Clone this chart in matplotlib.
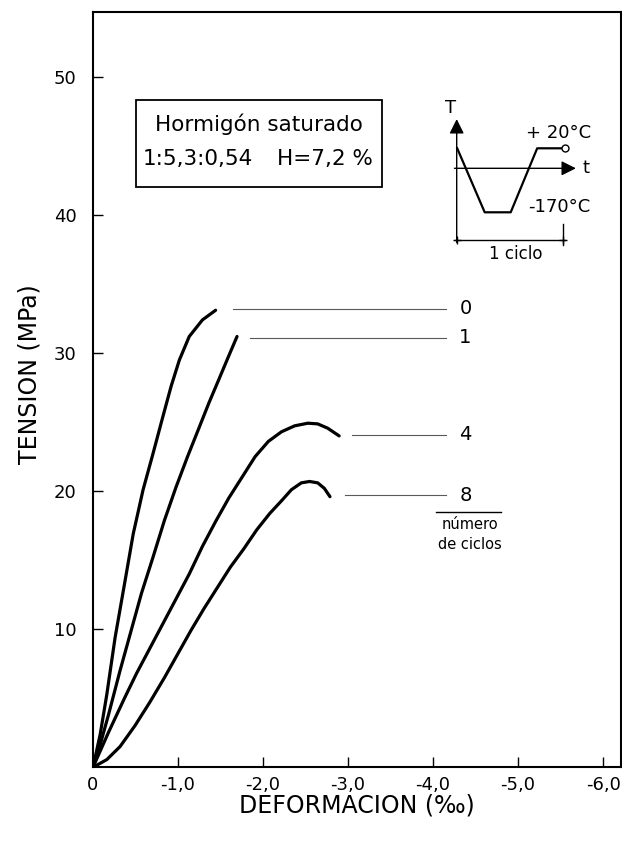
import matplotlib.pyplot as plt
from matplotlib.patches import Rectangle

plt.rcParams['font.family'] = ['DejaVu Sans']

# curvas tension-deformacion (deformacion en por mil, negativa)
c0_x = [0, -0.085, -0.163, -0.260, -0.357, -0.473, -0.589, -0.705, -0.822,
        -0.919, -1.016, -1.132, -1.287, -1.442]
c0_y = [0, 2.4, 5.3, 9.4, 12.8, 16.9, 20.1, 22.7, 25.4,
        27.6, 29.5, 31.2, 32.4, 33.1]

c1_x = [0, -0.085, -0.182, -0.318, -0.453, -0.570, -0.705, -0.841, -0.977,
        -1.112, -1.248, -1.364, -1.481, -1.597, -1.694]
c1_y = [0, 1.65, 3.8, 7.0, 10.0, 12.6, 15.2, 17.9, 20.3,
        22.5, 24.6, 26.4, 28.1, 29.8, 31.2]

c4_x = [0, -0.18, -0.37, -0.512, -0.667, -0.822, -0.977, -1.132, -1.287, -1.442,
        -1.597, -1.752, -1.907, -2.062, -2.217, -2.372, -2.527, -2.643, -2.760, -2.895]
c4_y = [0, 2.5, 5.0, 6.8, 8.6, 10.4, 12.2, 14.0, 16.0, 17.8,
        19.5, 21.0, 22.5, 23.6, 24.3, 24.73, 24.92, 24.87, 24.56, 24.0]

c8_x = [0, -0.163, -0.318, -0.492, -0.667, -0.841, -0.996, -1.151, -1.306, -1.461,
        -1.616, -1.771, -1.926, -2.081, -2.217, -2.333, -2.450, -2.547, -2.643, -2.721, -2.787]
c8_y = [0, 0.56, 1.5, 3.0, 4.7, 6.5, 8.2, 9.9, 11.5, 13.0,
        14.5, 15.8, 17.2, 18.4, 19.3, 20.1, 20.6, 20.7, 20.6, 20.2, 19.6]

curves = [(c0_x, c0_y), (c1_x, c1_y), (c4_x, c4_y), (c8_x, c8_y)]

# etiquetas de numero de ciclos
cycle_labels = ["0", "1", "4", "8"]
leader_x0 = [-1.65, -1.85, -3.05, -2.96]
leader_x1 = -4.15
leader_y = [33.2, 31.1, 24.1, 19.7]

x_ticks = [0, -1, -2, -3, -4, -5, -6]
x_labels = ["0", "-1,0", "-2,0", "-3,0", "-4,0", "-5,0", "-6,0"]
y_ticks = [10, 20, 30, 40, 50]
y_labels = ["10", "20", "30", "40", "50"]

# esquema del ciclo de temperatura (unidades esquematicas)
cycle_t = [0.05, 2.8, 5.4, 8.05, 10.6]
cycle_T = [2.0, -4.4, -4.4, 2.0, 2.0]

fig = plt.figure(figsize=(6.22, 8.42), dpi=100)
ax = fig.add_axes([93 / 622, 1 - 767.3 / 842, 528 / 622, 755.3 / 842])

for xs, ys in curves:
    ax.plot(xs, ys, color="black", lw=2.3, solid_capstyle="round", solid_joinstyle="round")

for lab, x0, y in zip(cycle_labels, leader_x0, leader_y):
    ax.plot([x0, leader_x1], [y, y], color="0.35", lw=0.8)
    ax.text(-4.38, y, lab, fontsize=14, ha="center", va="center")

ax.plot([-4.04, -4.80], [18.5, 18.5], color="black", lw=1.0)
ax.text(-4.43, 17.6, "número", fontsize=10.5, ha="center", va="center")
ax.text(-4.43, 16.1, "de ciclos", fontsize=10.5, ha="center", va="center")

ax.set_xlim(0, -6.21)
ax.set_ylim(0, 54.7)
ax.set_xticks(x_ticks)
ax.set_xticklabels(x_labels)
ax.set_yticks(y_ticks)
ax.set_yticklabels(y_labels)
ax.tick_params(direction="in", length=7, width=1, labelsize=13)
ax.tick_params(axis="x", pad=6)
ax.tick_params(axis="y", pad=12)
for s in ax.spines.values():
    s.set_linewidth(1.5)

ax.text(0.5, -0.05, "DEFORMACION (‰)", transform=ax.transAxes,
        fontsize=17, ha="center", va="center")
ax.text(-0.12, 0.52, "TENSION (MPa)", transform=ax.transAxes,
        fontsize=17, ha="center", va="center", rotation=90)

# recuadro
ax.add_patch(Rectangle((-0.51, 42.0), -2.89, 6.3, fill=False, lw=1.3, ec="black"))
ax.text(-1.95, 46.05, "Hormigón saturado", fontsize=15.5, ha="center", va="baseline")
ax.text(-0.59, 43.65, "1:5,3:0,54", fontsize=15.5, ha="left", va="baseline")
ax.text(-3.29, 43.65, "H=7,2 %", fontsize=15.5, ha="right", va="baseline")

# esquema del ciclo
ax_in = fig.add_axes([436.7 / 622, 1 - 268.3 / 842, 170 / 622, 170 / 842])
ax_in.set_xlim(-2, 15)
ax_in.set_ylim(-10, 7)
ax_in.axis("off")
ax_in.patch.set_alpha(0)

ax_in.annotate("", xy=(0, 5.2), xytext=(0, -7.7),
               arrowprops=dict(arrowstyle="-|>", lw=1.0, color="black", mutation_scale=22))
ax_in.annotate("", xy=(12.2, 0), xytext=(-0.5, 0),
               arrowprops=dict(arrowstyle="-|>", lw=1.0, color="black", mutation_scale=22))
ax_in.plot(cycle_t, cycle_T, color="black", lw=1.6)
ax_in.plot([cycle_t[-1] + 0.2], [cycle_T[-1]], "o", ms=5, mfc="white", mec="black", mew=1)
ax_in.plot([-0.2, 10.8], [-7.2, -7.2], color="black", lw=1.0)
ax_in.plot([10.66, 10.66], [-5.6, -7.7], color="black", lw=1.0)
ax_in.plot([0, 10.66], [-7.2, -7.2], "+", color="black", ms=6, mew=1)
ax_in.text(-0.6, 6.0, "T", fontsize=13, ha="center", va="center")
ax_in.text(12.6, 0, "t", fontsize=13, ha="left", va="center")
ax_in.text(10.2, 3.5, "+ 20°C", fontsize=13, ha="center", va="center")
ax_in.text(10.3, -3.9, "-170°C", fontsize=13, ha="center", va="center")
ax_in.text(5.9, -8.6, "1 ciclo", fontsize=12, ha="center", va="center")

fig.savefig("out.png", dpi=100)
